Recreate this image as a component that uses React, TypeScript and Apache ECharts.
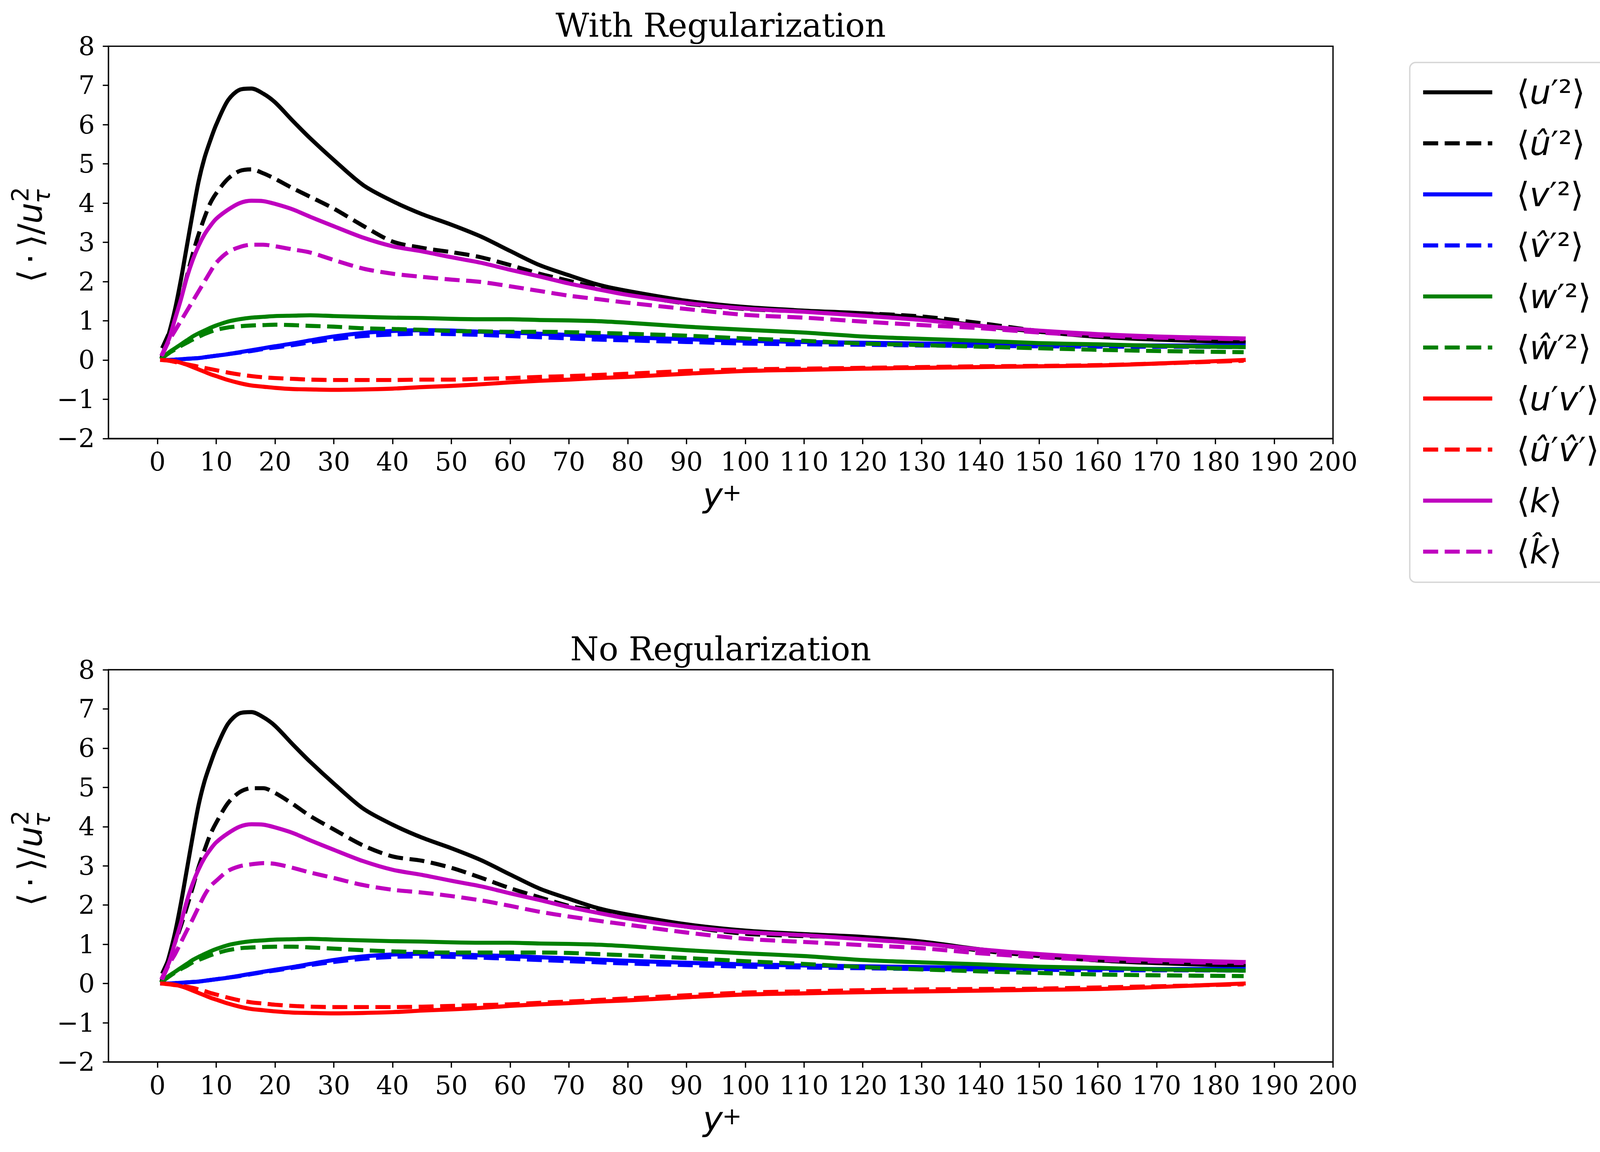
import React, { useEffect, useRef } from "react";
import * as echarts from "echarts";

// ---------------- data ----------------
const yPlus = [0.8, 2, 3, 4, 5, 6, 7, 8, 9, 10, 12, 14, 16, 18, 20, 23, 26, 30, 35, 40, 45, 50, 55, 60, 65, 70, 75, 80, 90, 100, 110, 120, 130, 140, 150, 160, 170, 184.8];

// reference (solid) profiles, shared by both panels
const uu = [0.1, 0.7, 1.3, 2.05, 2.9, 3.75, 4.55, 5.15, 5.6, 6.0, 6.62, 6.89, 6.92, 6.79, 6.57, 6.1, 5.65, 5.1, 4.46, 4.05, 3.72, 3.45, 3.15, 2.78, 2.42, 2.16, 1.92, 1.76, 1.51, 1.35, 1.26, 1.19, 1.07, 0.87, 0.72, 0.59, 0.52, 0.45];
const vv = [0, 0, 0.01, 0.02, 0.03, 0.04, 0.05, 0.07, 0.09, 0.11, 0.15, 0.2, 0.25, 0.3, 0.35, 0.42, 0.5, 0.6, 0.69, 0.74, 0.76, 0.75, 0.72, 0.7, 0.67, 0.64, 0.61, 0.58, 0.53, 0.49, 0.46, 0.44, 0.42, 0.4, 0.39, 0.38, 0.37, 0.37];
const ww = [0.05, 0.2, 0.3, 0.4, 0.5, 0.6, 0.68, 0.75, 0.82, 0.88, 0.98, 1.04, 1.08, 1.1, 1.12, 1.13, 1.14, 1.12, 1.1, 1.08, 1.07, 1.05, 1.04, 1.04, 1.02, 1.01, 0.99, 0.95, 0.85, 0.77, 0.7, 0.6, 0.54, 0.49, 0.43, 0.4, 0.36, 0.33];
const uv = [0, -0.01, -0.03, -0.07, -0.12, -0.18, -0.24, -0.3, -0.36, -0.41, -0.51, -0.59, -0.65, -0.68, -0.71, -0.74, -0.75, -0.76, -0.75, -0.73, -0.69, -0.66, -0.62, -0.57, -0.53, -0.5, -0.46, -0.43, -0.35, -0.28, -0.25, -0.22, -0.2, -0.18, -0.16, -0.14, -0.09, 0.0];
const kk = [0.15, 0.55, 1.05, 1.55, 2.1, 2.55, 2.91, 3.2, 3.42, 3.6, 3.83, 4.0, 4.06, 4.05, 3.98, 3.84, 3.65, 3.41, 3.12, 2.9, 2.77, 2.62, 2.48, 2.3, 2.13, 1.95, 1.8, 1.66, 1.45, 1.31, 1.23, 1.13, 1.02, 0.87, 0.75, 0.66, 0.6, 0.55];

// With Regularization (dashed)
const uuHatReg = [0.3, 0.7, 1.1, 1.57, 2.13, 2.7, 3.2, 3.63, 4.0, 4.25, 4.62, 4.82, 4.86, 4.76, 4.62, 4.38, 4.16, 3.86, 3.42, 3.02, 2.86, 2.75, 2.62, 2.42, 2.2, 2.02, 1.83, 1.68, 1.44, 1.3, 1.24, 1.19, 1.11, 0.94, 0.74, 0.6, 0.53, 0.47];
const vvHatReg = [0, 0, 0.01, 0.02, 0.03, 0.04, 0.05, 0.07, 0.09, 0.11, 0.15, 0.19, 0.23, 0.28, 0.32, 0.38, 0.45, 0.53, 0.61, 0.65, 0.67, 0.66, 0.64, 0.61, 0.58, 0.55, 0.52, 0.5, 0.46, 0.42, 0.4, 0.39, 0.37, 0.36, 0.35, 0.34, 0.34, 0.33];
const wwHatReg = [0.05, 0.18, 0.27, 0.36, 0.44, 0.52, 0.59, 0.66, 0.72, 0.77, 0.83, 0.86, 0.88, 0.89, 0.9, 0.89, 0.87, 0.85, 0.81, 0.79, 0.77, 0.74, 0.73, 0.72, 0.72, 0.71, 0.69, 0.67, 0.62, 0.55, 0.49, 0.42, 0.38, 0.34, 0.3, 0.26, 0.23, 0.2];
const uvHatReg = [0, -0.02, -0.05, -0.08, -0.11, -0.14, -0.17, -0.2, -0.23, -0.26, -0.32, -0.37, -0.41, -0.44, -0.46, -0.48, -0.5, -0.51, -0.51, -0.51, -0.5, -0.5, -0.48, -0.46, -0.43, -0.41, -0.38, -0.35, -0.28, -0.24, -0.22, -0.2, -0.18, -0.16, -0.15, -0.13, -0.09, -0.02];
const kHatReg = [0.12, 0.5, 0.75, 1.0, 1.25, 1.5, 1.75, 2.0, 2.25, 2.48, 2.75, 2.88, 2.94, 2.94, 2.9, 2.82, 2.74, 2.55, 2.33, 2.2, 2.12, 2.05, 1.99, 1.88, 1.76, 1.64, 1.55, 1.46, 1.3, 1.15, 1.08, 0.98, 0.89, 0.81, 0.7, 0.62, 0.57, 0.53];

// No Regularization (dashed)
const uuHatNo = [0.25, 0.65, 1.05, 1.47, 1.95, 2.45, 2.97, 3.4, 3.8, 4.1, 4.6, 4.88, 4.98, 4.98, 4.86, 4.58, 4.27, 3.93, 3.52, 3.24, 3.13, 2.95, 2.7, 2.43, 2.2, 1.98, 1.85, 1.69, 1.45, 1.27, 1.21, 1.17, 1.04, 0.84, 0.7, 0.59, 0.53, 0.47];
const vvHatNo = [0, 0, 0.01, 0.02, 0.03, 0.04, 0.05, 0.07, 0.09, 0.11, 0.15, 0.19, 0.24, 0.29, 0.33, 0.4, 0.47, 0.55, 0.63, 0.68, 0.69, 0.68, 0.66, 0.63, 0.6, 0.57, 0.54, 0.51, 0.47, 0.43, 0.41, 0.39, 0.37, 0.36, 0.35, 0.34, 0.34, 0.33];
const wwHatNo = [0.05, 0.18, 0.28, 0.37, 0.45, 0.54, 0.6, 0.66, 0.72, 0.77, 0.85, 0.9, 0.92, 0.93, 0.94, 0.94, 0.92, 0.89, 0.85, 0.82, 0.8, 0.79, 0.79, 0.79, 0.79, 0.78, 0.75, 0.72, 0.65, 0.57, 0.5, 0.42, 0.36, 0.31, 0.27, 0.23, 0.21, 0.19];
const uvHatNo = [0, -0.02, -0.04, -0.06, -0.08, -0.11, -0.15, -0.19, -0.24, -0.28, -0.36, -0.43, -0.48, -0.51, -0.54, -0.57, -0.59, -0.6, -0.6, -0.6, -0.59, -0.57, -0.55, -0.53, -0.49, -0.46, -0.42, -0.38, -0.3, -0.23, -0.2, -0.17, -0.15, -0.14, -0.13, -0.1, -0.07, -0.02];
const kHatNo = [0.1, 0.5, 0.75, 1.05, 1.35, 1.64, 1.95, 2.25, 2.48, 2.62, 2.87, 2.99, 3.04, 3.07, 3.05, 2.95, 2.83, 2.69, 2.51, 2.39, 2.32, 2.23, 2.12, 1.98, 1.83, 1.71, 1.6, 1.5, 1.3, 1.14, 1.06, 0.98, 0.9, 0.77, 0.67, 0.6, 0.56, 0.52];

const xTicks = [0, 10, 20, 30, 40, 50, 60, 70, 80, 90, 100, 110, 120, 130, 140, 150, 160, 170, 180, 190, 200];
const panelTitles = ["With Regularization", "No Regularization"];
const seriesNames = ["uu", "uuh", "vv", "vvh", "ww", "wwh", "uv", "uvh", "k", "kh"];
const seriesColors = ["#000000", "#000000", "#0000ff", "#0000ff", "#008000", "#008000", "#ff0000", "#ff0000", "#bf00bf", "#bf00bf"];
const legendLabels: Record<string, string> = {
  uu: "{g| }{b|⟨}{i|u}{b|′²⟩}",
  uuh: "{g| }{b|⟨}{i|û}{b|′²⟩}",
  vv: "{g| }{b|⟨}{i|v}{b|′²⟩}",
  vvh: "{g| }{b|⟨}{i|v̂}{b|′²⟩}",
  ww: "{g| }{b|⟨}{i|w}{b|′²⟩}",
  wwh: "{g| }{b|⟨}{i|ŵ}{b|′²⟩}",
  uv: "{g| }{b|⟨}{i|u}{b|′}{i|v}{b|′⟩}",
  uvh: "{g| }{b|⟨}{i|û}{b|′}{i|v̂}{b|′⟩}",
  k: "{g| }{b|⟨}{i|k}{b|⟩}",
  kh: "{g| }{b|⟨}{i|k̂}{b|⟩}",
};

// ---------------- styling ----------------
const DASH = [38.5, 16.7];
const LW = 10.4;

const GRID_LEFT = 277.7;
const GRID_W = 3134.8;
const GRID_TOPS = [118.3, 1715];
const GRID_H = 1004.5;
const X_MIN = -8.33;
const X_MAX = 200;

const SERIF = "'DejaVu Serif', serif";
const SANS = "'DejaVu Sans', sans-serif";

const isDashed = (name: string) => name.endsWith("h");

function mk(name: string, vals: number[], gi: number) {
  const color = seriesColors[seriesNames.indexOf(name)];
  const dashed = isDashed(name);
  return {
    type: "line",
    name,
    xAxisIndex: gi,
    yAxisIndex: gi,
    data: yPlus.map((x, i) => [x, vals[i]]),
    symbol: "none",
    showSymbol: false,
    smooth: 0.3,
    silent: true,
    lineStyle: {
      color,
      width: LW,
      type: dashed ? DASH : "solid",
      cap: dashed ? "butt" : "square",
      join: "round",
    },
    itemStyle: { color },
    emphasis: { disabled: true },
  };
}

function panelSeries(gi: number, uuH: number[], vvH: number[], wwH: number[], uvH: number[], kH: number[]) {
  return [
    mk("uu", uu, gi),
    mk("uuh", uuH, gi),
    mk("vv", vv, gi),
    mk("vvh", vvH, gi),
    mk("ww", ww, gi),
    mk("wwh", wwH, gi),
    mk("uv", uv, gi),
    mk("uvh", uvH, gi),
    mk("k", kk, gi),
    mk("kh", kH, gi),
  ];
}

function txt(text: string, x: number, y: number, size: number, family: string, italic = false) {
  return {
    type: "text",
    x,
    y,
    silent: true,
    style: {
      text,
      fontSize: size,
      fontFamily: family,
      fontStyle: italic ? "italic" : "normal",
      fill: "#000",
      align: "center",
      verticalAlign: "middle",
    },
  };
}

function panelDecor(gi: number) {
  const dy = GRID_TOPS[gi] - GRID_TOPS[0];
  return [
    txt(panelTitles[gi], 1845, 65.3 + dy, 83.5, SERIF),
    // x label  y^+
    txt("y", 1825, 1267 + dy, 86, SANS, true),
    txt("+", 1874, 1261 + dy, 60, SANS),
    // y label  <.>/u_tau^2 (rotated)
    {
      type: "group",
      x: 107,
      y: 719 + dy,
      rotation: Math.PI / 2,
      children: [
        txt("⟨", 12, -30, 86, SANS),
        txt("⋅", 56, -30, 86, SANS),
        txt("⟩", 102, -30, 86, SANS),
        txt("/", 132, -30, 86, SANS),
        txt("u", 173, -30, 86, SANS, true),
        txt("2", 221, -54.8, 60, SANS),
        txt("τ", 216, 0.2, 60, SANS, true),
      ],
    },
  ];
}

export default function App() {
  const ref = useRef<HTMLDivElement>(null);
  useEffect(() => {
    if (!ref.current) return;
    const chart = echarts.init(ref.current, null, { renderer: "svg" });
    const grids = GRID_TOPS.map((top) => ({
      left: GRID_LEFT,
      top,
      width: GRID_W,
      height: GRID_H,
      show: true,
      borderColor: "#000",
      borderWidth: 3.3,
      backgroundColor: "transparent",
      containLabel: false,
    }));
    const xAxes = GRID_TOPS.map((_, gi) => ({
      type: "value",
      gridIndex: gi,
      min: X_MIN,
      max: X_MAX,
      splitLine: { show: false },
      axisLine: { show: true, onZero: false, lineStyle: { color: "#000", width: 3.3 } },
      axisTick: {
        show: true,
        inside: false,
        length: 14.6,
        customValues: xTicks,
        lineStyle: { color: "#000", width: 3.3 },
      },
      axisLabel: {
        show: true,
        customValues: xTicks,
        margin: 27,
        fontFamily: SERIF,
        fontSize: 66,
        color: "#000",
        formatter: (v: number) => String(v),
      },
    }));
    const yAxes = GRID_TOPS.map((_, gi) => ({
      type: "value",
      gridIndex: gi,
      min: -2,
      max: 8,
      interval: 1,
      splitLine: { show: false },
      axisLine: { show: true, onZero: false, lineStyle: { color: "#000", width: 3.3 } },
      axisTick: { show: true, inside: false, length: 14.6, lineStyle: { color: "#000", width: 3.3 } },
      axisLabel: {
        show: true,
        margin: 35,
        fontFamily: SERIF,
        fontSize: 66,
        color: "#000",
        formatter: (v: number) => (v < 0 ? "\u2212" + Math.abs(v) : String(v)),
      },
    }));
    const option: any = {
      animation: false,
      backgroundColor: "#ffffff",
      grid: grids,
      xAxis: xAxes,
      yAxis: yAxes,
      legend: {
        show: true,
        orient: "vertical",
        left: 3638,
        top: 171,
        padding: 0,
        itemWidth: 177,
        itemHeight: 2,
        itemGap: 0,
        z: 10,
        selectedMode: false,
        itemStyle: { opacity: 0, borderWidth: 0 },
        lineStyle: { width: LW },
        data: seriesNames.map((name, i) => ({
          name,
          itemStyle: { opacity: 0, borderWidth: 0 },
          lineStyle: {
            color: seriesColors[i],
            width: LW,
            type: isDashed(name) ? DASH : "solid",
            cap: "butt",
            opacity: 1,
          },
        })),
        formatter: (name: string) => legendLabels[name],
        textStyle: {
          fontFamily: SANS,
          fontSize: 86,
          color: "#000",
          lineHeight: 130.7,
          rich: {
            g: { width: 57, fontSize: 20, lineHeight: 130.7 },
            b: { fontFamily: SANS, fontSize: 86, lineHeight: 130.7, color: "#000" },
            i: { fontFamily: SANS, fontStyle: "italic", fontSize: 86, lineHeight: 130.7, color: "#000" },
          },
        },
      },
      graphic: [
        {
          type: "rect",
          z: 1,
          silent: true,
          shape: { x: 3609, y: 160, width: 508, height: 1331, r: 15 },
          style: { fill: "#ffffff", stroke: "#d6d6d6", lineWidth: 3.5 },
        },
        ...panelDecor(0),
        ...panelDecor(1),
      ],
      series: [
        ...panelSeries(0, uuHatReg, vvHatReg, wwHatReg, uvHatReg, kHatReg),
        ...panelSeries(1, uuHatNo, vvHatNo, wwHatNo, uvHatNo, kHatNo),
      ],
    };
    chart.setOption(option);
    return () => chart.dispose();
  }, []);
  return (
    <div
      ref={ref}
      style={{ position: "absolute", left: 0, top: 0, width: 4146, height: 2950, background: "#fff" }}
    />
  );
}
